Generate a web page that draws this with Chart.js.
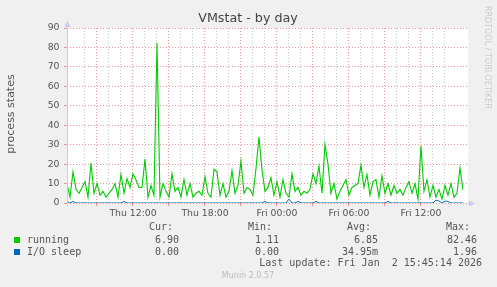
<!DOCTYPE html>
<html>
<head>
<meta charset="utf-8">
<script src="https://cdn.jsdelivr.net/npm/chart.js@4"></script>
<style>
  html, body { margin: 0; padding: 0; background: #F0F0F0; }
  canvas { display: block; }
</style>
</head>
<body>
<canvas id="c" width="497" height="287"></canvas>
<script>
// ---- data (15-minute samples, hours since Thu 00:00) ----
const START_HOUR = 6.5;
const STEP_HOURS = 0.25;
const X_MIN = 6.5;
const X_MAX = 39.92;
const running = [
  10, 3, 16, 7, 5, 8, 11, 3, 20.5, 5,
  10, 4, 6, 3, 5, 7, 10, 3, 14.7, 5,
  12.5, 8, 15, 12, 8, 8, 22.6, 3, 9, 4,
  82.46, 3, 10, 6, 3, 15, 6, 8, 3, 12,
  4, 10, 3, 5, 6, 4, 13.5, 5, 3, 17.3,
  16, 4, 10, 3, 6, 16.6, 5, 9, 21.6, 5,
  8, 7, 4, 17.8, 34, 17, 6, 8, 13, 4,
  11, 3, 12, 5, 3, 15, 6, 8, 4, 6,
  5, 7, 15, 10, 19, 5, 30, 20, 5, 10,
  2, 6, 9, 12, 4, 8, 9, 10, 19.5, 8,
  14.7, 4, 11, 12, 3, 14, 5, 10, 4, 9,
  5, 7, 4, 8, 11, 5, 10, 2, 29.3, 6,
  12, 3, 9, 3, 7, 2, 9, 4, 10, 3,
  5, 18, 6.9
];
const ioSleep = [
  0.8, 0, 0.8, 0, 0, 0, 0, 0, 0, 0,
  0, 0, 0, 0, 0, 0, 0, 0, 0, 0.8,
  0, 0, 0, 0, 0, 0, 0, 0, 0, 0,
  0, 0, 0, 0, 0, 0, 0, 0, 0, 0,
  0, 0, 0, 0, 0, 0, 0, 0, 0, 0,
  0, 0, 0, 0, 0, 0, 0, 0, 0, 0,
  0, 0, 0, 0, 0, 0, 0.8, 0, 0, 0,
  0, 0, 0, 0, 1.96, 0, 0, 0.8, 0, 0,
  0, 0, 0, 0.8, 0, 0, 0, 0, 0, 0,
  0, 0, 0, 0, 0, 0, 0, 0, 0, 0,
  0, 0, 0, 0, 0, 0, 0, 0.8, 0, 0,
  0, 0, 0, 0, 0, 0, 0, 0, 0, 0,
  0, 0, 0, 1.5, 1, 0, 1, 0.8, 0, 0,
  0, 0, 0
];
const xTickLabels = { 12: 'Thu 12:00', 18: 'Thu 18:00', 24: 'Fri 00:00', 30: 'Fri 06:00', 36: 'Fri 12:00' };
const seriesNames = ['running', 'I/O sleep'];
const seriesColors = ['#00CC00', '#0066B3'];
const legendHeaders = ['Cur:', 'Min:', 'Avg:', 'Max:'];
const legendValues = [
  ['6.90', '1.11', '6.85', '82.46'],
  ['0.00', '0.00', '34.95m', '1.96']
];
const titleText = 'VMstat - by day';
const yAxisTitle = 'process states';
const lastUpdate = 'Last update: Fri Jan  2 15:45:14 2026';
const footer = 'Munin 2.0.57';
const sideText = 'RRDTOOL / TOBI OETIKER';

// ---- build chart ----
const toPoints = arr => arr.map((v, i) => ({ x: START_HOUR + i * STEP_HOURS, y: v }));
const MAJOR = 'rgba(230,120,120,0.75)';
const MINOR = 'rgba(190,190,190,0.8)';

const decor = {
  id: 'decor',
  beforeDraw(chart) {
    const { ctx, chartArea: a } = chart;
    ctx.save();
    ctx.fillStyle = '#F0F0F0';
    ctx.fillRect(0, 0, chart.width, chart.height);
    ctx.fillStyle = '#FFFFFF';
    ctx.fillRect(a.left, a.top, a.right - a.left, a.bottom - a.top);
    ctx.restore();
  },
  afterDraw(chart) {
    const { ctx, chartArea: a } = chart;
    ctx.save();
    // axes
    ctx.strokeStyle = '#C8C8F0';
    ctx.lineWidth = 1;
    ctx.beginPath();
    ctx.moveTo(a.left + 0.5, a.bottom + 3);
    ctx.lineTo(a.left + 0.5, a.top - 4);
    ctx.stroke();
    ctx.fillStyle = '#C8C8F0';
    ctx.beginPath();
    ctx.moveTo(a.left - 2.5, a.top - 1);
    ctx.lineTo(a.left + 3.5, a.top - 1);
    ctx.lineTo(a.left + 0.5, a.top - 7);
    ctx.closePath();
    ctx.fill();
    ctx.beginPath();
    ctx.moveTo(a.right, a.bottom + 0.5);
    ctx.lineTo(a.right + 3, a.bottom + 0.5);
    ctx.stroke();
    ctx.beginPath();
    ctx.moveTo(a.right + 1, a.bottom - 2.5);
    ctx.lineTo(a.right + 1, a.bottom + 3.5);
    ctx.lineTo(a.right + 7, a.bottom + 0.5);
    ctx.closePath();
    ctx.fill();

    // title
    ctx.fillStyle = '#444444';
    ctx.font = '12.7px "DejaVu Sans"';
    ctx.textAlign = 'center';
    ctx.textBaseline = 'middle';
    ctx.fillText(titleText, 248, 19);

    // y axis title
    ctx.save();
    ctx.translate(11, 114);
    ctx.rotate(-Math.PI / 2);
    ctx.fillStyle = '#555555';
    ctx.font = '11px "DejaVu Sans"';
    ctx.fillText(yAxisTitle, 0, 0);
    ctx.restore();

    // side text
    ctx.save();
    ctx.translate(487, 6);
    ctx.rotate(Math.PI / 2);
    ctx.fillStyle = '#CCCCCC';
    ctx.font = '8px "DejaVu Sans"';
    ctx.textAlign = 'left';
    ctx.fillText(sideText, 0, 0);
    ctx.restore();

    // legend
    ctx.font = '10px "DejaVu Sans Mono"';
    ctx.fillStyle = '#555555';
    ctx.textAlign = 'right';
    const headerRight = [173, 272, 371, 470];
    const valueRight = [179, 279, 378, 477];
    legendHeaders.forEach((h, i) => ctx.fillText(h, headerRight[i], 227.5));
    const rowY = [240, 252];
    seriesNames.forEach((name, r) => {
      ctx.fillStyle = seriesColors[r];
      ctx.fillRect(14, rowY[r] - 3, 6, 6);
      ctx.fillStyle = '#555555';
      ctx.textAlign = 'left';
      ctx.fillText(name, 27, rowY[r]);
      ctx.textAlign = 'right';
      legendValues[r].forEach((v, i) => ctx.fillText(v, valueRight[i], rowY[r]));
    });
    ctx.fillText(lastUpdate, 482, 263.5);

    ctx.fillStyle = '#BBBBBB';
    ctx.font = '8px "DejaVu Sans"';
    ctx.textAlign = 'center';
    ctx.fillText(footer, 248, 276);
    ctx.restore();
  }
};

new Chart(document.getElementById('c'), {
  type: 'line',
  data: {
    datasets: [
      { label: seriesNames[0], data: toPoints(running), borderColor: seriesColors[0], borderWidth: 1.1, pointRadius: 0, tension: 0, fill: false, order: 2 },
      { label: seriesNames[1], data: toPoints(ioSleep), borderColor: seriesColors[1], borderWidth: 1, pointRadius: 0, tension: 0, fill: false, order: 1 }
    ]
  },
  options: {
    responsive: false,
    animation: false,
    devicePixelRatio: 1,
    layout: { padding: { left: 0, top: 28, right: 29, bottom: 0 } },
    plugins: { legend: { display: false }, title: { display: false }, tooltip: { enabled: false } },
    scales: {
      x: {
        type: 'linear',
        min: X_MIN,
        max: X_MAX,
        afterFit(s) { s.height = 84; },
        afterBuildTicks(s) { s.ticks = s.ticks.filter(t => Number.isInteger(t.value)); },
        grid: {
          color: c => (c.tick && c.tick.value % 3 === 0) ? MAJOR : MINOR,
          drawTicks: true,
          tickLength: 3,
          tickColor: c => (c.tick && c.tick.value % 3 === 0) ? MAJOR : 'rgba(0,0,0,0)'
        },
        border: { display: false, dash: [1, 2] },
        ticks: {
          stepSize: 1,
          autoSkip: false,
          maxRotation: 0,
          padding: 2,
          color: '#555555',
          font: { family: 'DejaVu Sans', size: 9.3 },
          callback: v => xTickLabels[v] || ''
        }
      },
      y: {
        min: 0,
        max: 90,
        afterFit(s) { s.width = 67; },
        grid: {
          color: c => (c.tick && c.tick.value % 10 === 0) ? MAJOR : MINOR,
          drawTicks: true,
          tickLength: 3
        },
        border: { display: false, dash: [1, 2] },
        ticks: {
          stepSize: 5,
          padding: 4.5,
          color: '#555555',
          font: { family: 'DejaVu Sans', size: 9.3 },
          callback: v => (v % 10 === 0 ? String(v) : '')
        }
      }
    }
  },
  plugins: [decor]
});
</script>
</body>
</html>
